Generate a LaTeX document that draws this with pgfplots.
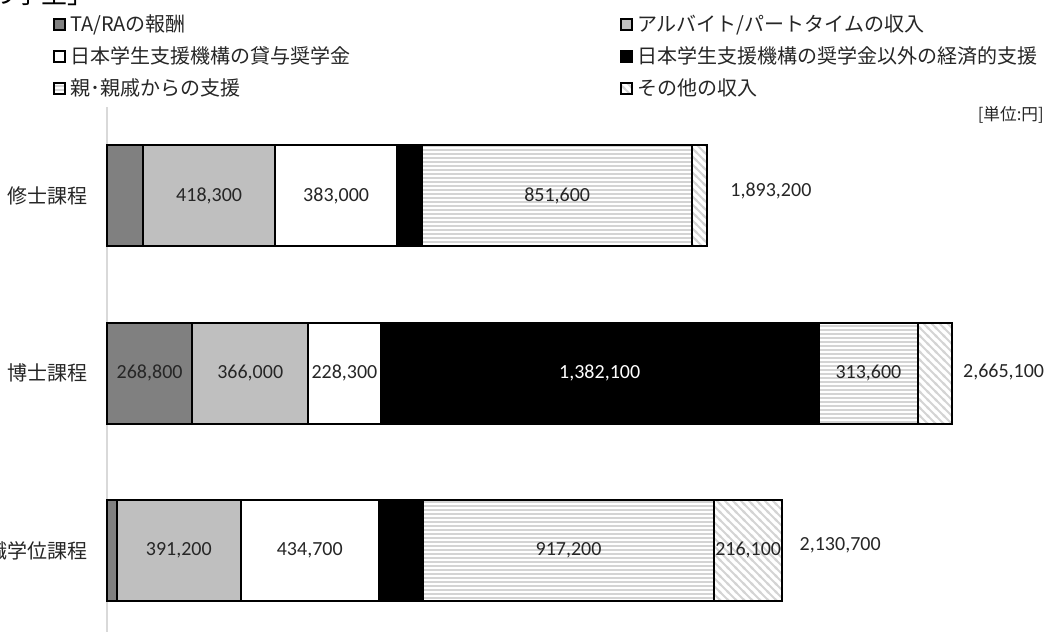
\documentclass[border=0pt]{standalone}
\usepackage{fontspec}
\setmainfont{Carlito}
\newfontfamily\jp{Noto Sans CJK JP}
\usepackage{pgfplots}
\pgfplotsset{compat=1.18}
\usetikzlibrary{patterns}
\pgfdeclarepatternformonly{hstripes}{\pgfqpoint{-0.2pt}{0pt}}{\pgfqpoint{3.2pt}{3pt}}{\pgfqpoint{3pt}{3pt}}{%
  \pgfsetlinewidth{1.5pt}%
  \pgfpathmoveto{\pgfqpoint{-0.2pt}{1.5pt}}%
  \pgfpathlineto{\pgfqpoint{3.2pt}{1.5pt}}%
  \pgfusepath{stroke}}
\pgfdeclarepatternformonly{dstripes}{\pgfqpoint{-1pt}{-1pt}}{\pgfqpoint{7pt}{7pt}}{\pgfqpoint{6pt}{6pt}}{%
  \pgfsetlinewidth{1.5pt}%
  \pgfpathmoveto{\pgfqpoint{-1pt}{7pt}}\pgfpathlineto{\pgfqpoint{7pt}{-1pt}}%
  \pgfpathmoveto{\pgfqpoint{-1pt}{1pt}}\pgfpathlineto{\pgfqpoint{1pt}{-1pt}}%
  \pgfpathmoveto{\pgfqpoint{5pt}{7pt}}\pgfpathlineto{\pgfqpoint{7pt}{5pt}}%
  \pgfusepath{stroke}}
\definecolor{tagray}{HTML}{808080}
\definecolor{argray}{HTML}{BFBFBF}
\definecolor{stripe}{HTML}{D4D4D4}
\definecolor{axgray}{HTML}{D9D9D9}
\definecolor{txt}{HTML}{262626}
\newcommand\numfont{\fontsize{15}{18}\selectfont}
\newcommand\jpfont{\jp\fontsize{15}{18}\selectfont}
\tikzset{lbl/.style={font=\numfont, text=txt, inner sep=0pt}}
\begin{document}
\begin{tikzpicture}
\useasboundingbox (0,0) rectangle (790.5pt,-474pt);
\clip (0,0) rectangle (790.5pt,-474pt);
\node[font=\jp\fontsize{19.5}{22}\selectfont, anchor=south west, inner sep=0pt] at (-8.25pt,-4.5pt) {の学生」};
\begin{axis}[
  at={(413.1pt,-279.75pt)}, anchor=center,
  width=665.7pt, height=399.375pt, scale only axis,
  xbar stacked, bar width=75.75pt,
  xmin=0, xmax=2800000,
  ymin=-0.5, ymax=2.5,
  axis x line=none, axis y line*=left,
  y axis line style={-, draw=axgray, line width=1.125pt},
  xtick=\empty,
  ytick={0,1,2},
  yticklabels={専門職学位課程,博士課程,修士課程},
  ytick style={draw=none}, major tick length=0pt,
  yticklabel style={font=\jpfont, text=txt, anchor=east, inner sep=0pt, xshift=-14.25pt},
  clip=false,
  every axis plot/.append style={draw=black, line width=1.5pt},
  legend columns=2,
  legend style={at={(-0.0608,1.1732)}, anchor=north west, draw=none, fill=none,
    inner sep=0pt, outer sep=0pt, font=\jpfont, text=txt,
    column sep=3pt, row sep=9.75pt,
    nodes={inner sep=0pt, text height=12.75pt, text depth=1.5pt}},
  legend cell align=left,
  legend image code/.code={\draw[#1] (0pt,-4.125pt) rectangle (8.25pt,4.125pt);},
]
\addplot[fill=tagray] coordinates {(113000,2) (268800,1) (31000,0)};
\addlegendentry{\makebox[409.5pt][l]{TA/RAの報酬}}
\addplot[fill=argray] coordinates {(418300,2) (366000,1) (391200,0)};
\addlegendentry{アルバイト/パートタイムの収入}
\addplot[fill=white] coordinates {(383000,2) (228300,1) (434700,0)};
\addlegendentry{\makebox[409.5pt][l]{日本学生支援機構の貸与奨学金}}
\addplot[fill=black] coordinates {(80000,2) (1382100,1) (140500,0)};
\addlegendentry{日本学生支援機構の奨学金以外の経済的支援}
\addplot[pattern=hstripes, pattern color=stripe] coordinates {(851600,2) (313600,1) (917200,0)};
\addlegendentry{\makebox[409.5pt][l]{親･親戚からの支援}}
\addplot[pattern=dstripes, pattern color=stripe] coordinates {(47300,2) (106300,1) (216100,0)};
\addlegendentry{その他の収入}
\coordinate (a1) at (axis cs:322150,2);
\coordinate (a2) at (axis cs:722800,2);
\coordinate (a3) at (axis cs:1420100,2);
\coordinate (b1) at (axis cs:134400,1);
\coordinate (b2) at (axis cs:451800,1);
\coordinate (b3) at (axis cs:748950,1);
\coordinate (b4) at (axis cs:1554150,1);
\coordinate (b5) at (axis cs:2402000,1);
\coordinate (c1) at (axis cs:226600,0);
\coordinate (c2) at (axis cs:639550,0);
\coordinate (c3) at (axis cs:1456000,0);
\coordinate (c4) at (axis cs:2022650,0);
\coordinate (ta) at (axis cs:1893200,2);
\coordinate (tb) at (axis cs:2665100,1);
\coordinate (tc) at (axis cs:2130700,0);
\end{axis}
\node[lbl] at (a1) {418,300};
\node[lbl] at (a2) {383,000};
\node[lbl] at (a3) {851,600};
\node[lbl] at (b1) {268,800};
\node[lbl] at (b2) {366,000};
\node[lbl] at (b3) {228,300};
\node[lbl, text=white] at (b4) {1,382,100};
\node[lbl] at (b5) {313,600};
\node[lbl] at (c1) {391,200};
\node[lbl] at (c2) {434,700};
\node[lbl] at (c3) {917,200};
\node[lbl] at (c4) {216,100};
\node[lbl, anchor=west, xshift=17.25pt, yshift=3.75pt] at (ta) {1,893,200};
\node[lbl, anchor=west, xshift=8.25pt, yshift=0.5pt] at (tb) {2,665,100};
\node[lbl, anchor=west, xshift=12.75pt, yshift=4pt] at (tc) {2,130,700};
\node[anchor=east, inner sep=0pt, text=txt, font=\jp\fontsize{12.5}{15}\selectfont] at (783pt,-86.5pt) {[単位:円]};
\end{tikzpicture}
\end{document}
